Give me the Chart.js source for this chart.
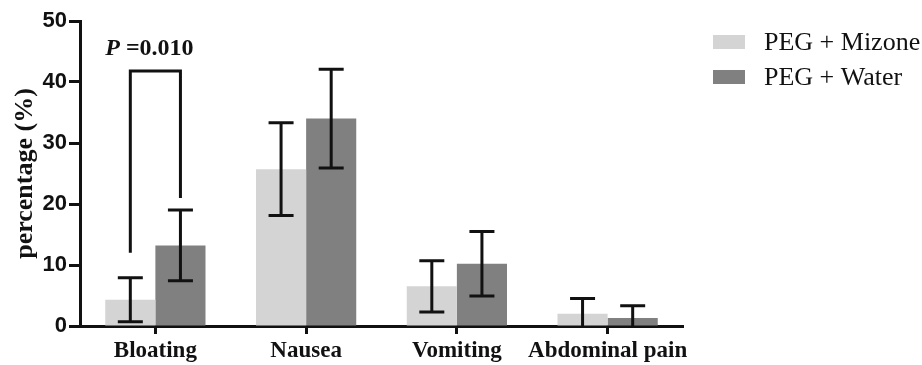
<!DOCTYPE html>
<html>
<head>
<meta charset="utf-8">
<script src="https://cdn.jsdelivr.net/npm/chart.js@4"></script>
<style>
  html, body { margin: 0; padding: 0; background: #fff; }
  #wrap { width: 922px; height: 365px; position: relative; }
</style>
</head>
<body>
<div id="wrap"><canvas id="symptomChart"></canvas></div>
<script>
// values (percent)
const categories = ['Bloating', 'Nausea', 'Vomiting', 'Abdominal pain'];
const mizoneValues = [4.3, 25.7, 6.5, 2.0];
const mizoneErrors = [3.6, 7.6, 4.2, 2.5];
const waterValues = [13.2, 34.0, 10.2, 1.3];
const waterErrors = [5.8, 8.1, 5.3, 2.0];
const yTicks = [0, 10, 20, 30, 40, 50];
// significance bracket on Bloating: top, left leg end, right leg end
const bracketLevels = [41.8, 12.0, 21.0];
const pValue = '0.010';

const serif = '"Times New Roman", "Liberation Serif", serif';
const sans = 'Arial, "Liberation Sans", sans-serif';

const errorBars = {
    id: 'errorBars',
    afterDatasetsDraw(chart) {
        const ctx = chart.ctx;
        const y = chart.scales.y;
        const errs = [mizoneErrors, waterErrors];
        ctx.save();
        ctx.strokeStyle = '#111';
        ctx.lineWidth = 3;
        chart.data.datasets.forEach(function (ds, i) {
            chart.getDatasetMeta(i).data.forEach(function (bar, j) {
                const v = ds.data[j];
                const e = errs[i][j];
                const top = y.getPixelForValue(v + e);
                const low = v - e;
                const bottom = y.getPixelForValue(Math.max(0, low));
                ctx.beginPath();
                ctx.moveTo(bar.x, top);
                ctx.lineTo(bar.x, bottom);
                ctx.moveTo(bar.x - 12.5, top);
                ctx.lineTo(bar.x + 12.5, top);
                if (low > 0) {
                    ctx.moveTo(bar.x - 12.5, bottom);
                    ctx.lineTo(bar.x + 12.5, bottom);
                }
                ctx.stroke();
            });
        });

        // P value bracket over Bloating
        const a = chart.getDatasetMeta(0).data[0];
        const b = chart.getDatasetMeta(1).data[0];
        const yt = y.getPixelForValue(bracketLevels[0]);
        ctx.beginPath();
        ctx.moveTo(a.x, y.getPixelForValue(bracketLevels[1]));
        ctx.lineTo(a.x, yt);
        ctx.lineTo(b.x, yt);
        ctx.lineTo(b.x, y.getPixelForValue(bracketLevels[2]));
        ctx.stroke();

        ctx.fillStyle = '#111';
        ctx.textBaseline = 'alphabetic';
        ctx.textAlign = 'left';
        const tx = a.x - a.width / 2;
        ctx.font = 'italic bold 24px ' + serif;
        ctx.fillText('P', tx, yt - 16);
        const pw = ctx.measureText('P').width;
        ctx.font = 'bold 24px ' + serif;
        ctx.fillText(' =' + pValue, tx + pw, yt - 16);
        ctx.restore();
    }
};

const sideLegend = {
    id: 'sideLegend',
    afterDraw(chart) {
        const ctx = chart.ctx;
        ctx.save();
        ctx.font = '26px ' + serif;
        ctx.textBaseline = 'middle';
        ctx.textAlign = 'left';
        chart.data.datasets.forEach(function (ds, i) {
            const cy = 42 + i * 35;
            ctx.fillStyle = ds.backgroundColor;
            ctx.fillRect(713, cy - 7, 32, 14);
            ctx.fillStyle = '#111';
            ctx.fillText(ds.label, 764, cy + 1);
        });
        ctx.restore();
    }
};

new Chart(document.getElementById('symptomChart').getContext('2d'), {
    type: 'bar',
    data: {
        labels: categories,
        datasets: [{
            label: 'PEG + Mizone',
            data: mizoneValues,
            backgroundColor: '#d4d4d4',
            categoryPercentage: 0.665,
            barPercentage: 1.0
        }, {
            label: 'PEG + Water',
            data: waterValues,
            backgroundColor: '#808080',
            categoryPercentage: 0.665,
            barPercentage: 1.0
        }]
    },
    options: {
        responsive: true,
        maintainAspectRatio: false,
        animation: false,
        layout: { padding: { top: 21, right: 239, left: 0, bottom: 0 } },
        plugins: {
            legend: { display: false },
            tooltip: { enabled: false }
        },
        scales: {
            x: {
                z: 1,
                offset: true,
                afterFit: function (scale) { scale.height = 39; },
                border: { display: true, color: '#111', width: 3 },
                grid: {
                    offset: false,
                    drawOnChartArea: false,
                    drawTicks: true,
                    tickLength: 8,
                    tickWidth: 3,
                    tickColor: '#111'
                },
                ticks: {
                    color: '#111',
                    padding: 3,
                    autoSkip: false,
                    maxRotation: 0,
                    font: { family: serif, size: 23, weight: 'bold' }
                }
            },
            y: {
                z: 1,
                min: 0,
                max: 50,
                afterFit: function (scale) { scale.width = 80; },
                afterBuildTicks: function (scale) {
                    scale.ticks = yTicks.map(function (v) { return { value: v }; });
                },
                border: { display: true, color: '#111', width: 3 },
                grid: {
                    drawOnChartArea: false,
                    drawTicks: true,
                    tickLength: 11,
                    tickWidth: 3,
                    tickColor: '#111'
                },
                ticks: {
                    color: '#111',
                    padding: 2,
                    font: { family: sans, size: 22, weight: 'bold' }
                },
                title: {
                    display: true,
                    text: 'percentage (%)',
                    color: '#111',
                    padding: { top: 10, bottom: 0 },
                    font: { family: serif, size: 26, weight: 'bold' }
                }
            }
        }
    },
    plugins: [errorBars, sideLegend]
});
</script>
</body>
</html>
